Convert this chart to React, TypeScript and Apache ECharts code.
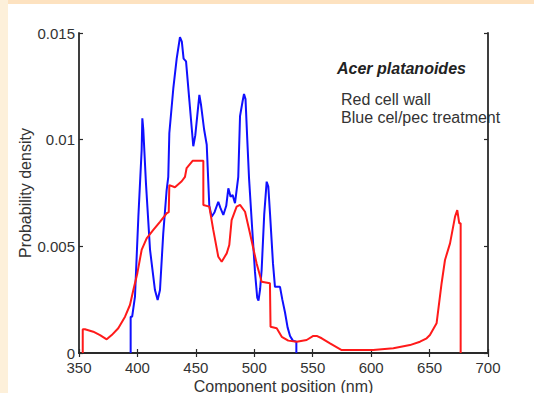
import React, { useEffect, useRef } from "react";
import * as echarts from "echarts";

// Red: cell wall
const redX = [353.2, 353.2, 355.1, 362.2, 368, 373.7, 378, 383.6, 389.4, 393.6, 396.5, 399.9, 403.6, 407.9, 413.6, 419.3, 425, 426.8, 427.3, 432.1, 437.9, 440.7, 442.1, 447.2, 456.4, 456.4, 461.5, 464.9, 469.2, 472.1, 476.4, 478.6, 480.6, 484.9, 487.8, 492.1, 496.3, 502, 506.3, 513.4, 513.9, 519.2, 523.5, 529.1, 536.3, 544.8, 550.5, 553.4, 557.7, 564.8, 574.8, 587.6, 601.8, 619, 633.2, 641.8, 647.5, 650.3, 656, 660.3, 663.2, 667.5, 671.8, 673.7, 675.4, 676.6, 676.6];
const redY = [0, 0.00111, 0.00111, 0.001, 0.00084, 0.00064, 0.00084, 0.00116, 0.0017, 0.00225, 0.00295, 0.00373, 0.00483, 0.00537, 0.00577, 0.00615, 0.00655, 0.0066, 0.00787, 0.00777, 0.00805, 0.00826, 0.00867, 0.00901, 0.00901, 0.00694, 0.00686, 0.00577, 0.00451, 0.00428, 0.00467, 0.00506, 0.00623, 0.00686, 0.00694, 0.00662, 0.00561, 0.0042, 0.00334, 0.00327, 0.00123, 0.00116, 0.00076, 0.00058, 0.00053, 0.00061, 0.0008, 0.0008, 0.00069, 0.00045, 0.00014, 0.00014, 0.00014, 0.00022, 0.00037, 0.00053, 0.00069, 0.00084, 0.00139, 0.00327, 0.00436, 0.00514, 0.00639, 0.0067, 0.00608, 0.00608, 0];

// Blue: cel/pec treatment
const blueX = [394.2, 394.2, 395.5, 397.9, 400.8, 403.6, 404.2, 405, 407.3, 410.8, 415, 417.3, 419.3, 422.1, 425, 426.4, 427.3, 430.7, 433.6, 436.4, 438, 439.5, 441.6, 444.5, 447.8, 449.5, 453, 454.5, 457, 459.3, 461.5, 463.5, 466, 469.2, 471, 473.5, 476, 477.8, 479.7, 481.5, 483.5, 486.3, 487.8, 490, 491.2, 492.5, 494, 495.5, 498, 500.6, 502.5, 503.6, 505, 506.3, 508.5, 510.6, 512, 513.5, 516, 517.7, 522, 524, 526.3, 528.5, 530.6, 533, 536, 536];
const blueY = [0, 0.0017, 0.0017, 0.00264, 0.00639, 0.0095, 0.011, 0.0105, 0.00795, 0.00483, 0.00295, 0.00248, 0.00295, 0.00561, 0.00764, 0.00826, 0.0103, 0.0124, 0.0138, 0.0148, 0.0146, 0.0138, 0.01367, 0.0118, 0.00969, 0.0102, 0.0121, 0.0116, 0.0105, 0.00976, 0.0069, 0.00639, 0.0066, 0.00709, 0.0068, 0.00647, 0.0069, 0.00772, 0.00733, 0.0074, 0.00702, 0.00826, 0.0111, 0.0118, 0.01214, 0.0119, 0.01, 0.0082, 0.006, 0.0038, 0.0026, 0.00245, 0.003, 0.0039, 0.0065, 0.00803, 0.0078, 0.0065, 0.0042, 0.0031, 0.0031, 0.0025, 0.0019, 0.0012, 0.0008, 0.00058, 0.00053, 0];

const xTicks = { min: 350, max: 700, interval: 50 };
const yTicks = { min: 0, max: 0.015, interval: 0.005 };

const speciesLabel = "Acer platanoides";
const legendLines = ["Red cell wall", "Blue cel/pec treatment"];

const FONT = "'Liberation Sans', Arial, Helvetica, sans-serif";
const TEXT = "#333";
const AXIS = "#2a2a2a";

export default function App() {
  const ref = useRef<HTMLDivElement>(null);
  useEffect(() => {
    if (!ref.current) return;
    const chart = echarts.init(ref.current, null, { renderer: "svg" });
    const axisLine = { show: true, lineStyle: { color: AXIS, width: 1.8 } };
    const axisTick = { show: true, inside: true, length: 4, lineStyle: { color: AXIS, width: 1.2 } };
    const yFmt = (v: number) => (v === 0 ? "0" : String(+v.toFixed(3)));
    chart.setOption({
      animation: false,
      backgroundColor: "#ffffff",
      grid: { left: 79, right: 46, top: 33, bottom: 40, containLabel: false, outerBoundsMode: "none" },
      xAxis: [
        {
          type: "value", ...xTicks, position: "bottom",
          axisLine, axisTick, splitLine: { show: false },
          axisLabel: { fontSize: 15, lineHeight: 12, color: TEXT, margin: 8, fontFamily: FONT },
          name: "Component position (nm)", nameLocation: "middle", nameGap: 25, nameMoveOverlap: false,
          nameTextStyle: { fontSize: 16, color: TEXT, fontFamily: FONT },
        },
        {
          type: "value", ...xTicks, position: "top",
          axisLine, axisTick, splitLine: { show: false }, axisLabel: { show: false },
        },
      ],
      yAxis: [
        {
          type: "value", ...yTicks, position: "left",
          axisLine, axisTick, splitLine: { show: false },
          axisLabel: { fontSize: 15, lineHeight: 12, color: TEXT, margin: 4, fontFamily: FONT, formatter: yFmt },
          name: "Probability density", nameLocation: "middle", nameGap: 46, nameMoveOverlap: false,
          nameTextStyle: { fontSize: 16, color: TEXT, fontFamily: FONT },
        },
        {
          type: "value", ...yTicks, position: "right",
          axisLine, axisTick, splitLine: { show: false }, axisLabel: { show: false },
        },
      ],
      series: [
        {
          type: "line", name: "Blue cel/pec treatment", xAxisIndex: 0, yAxisIndex: 0,
          data: blueX.map((x, i) => [x, blueY[i]]),
          showSymbol: false, lineStyle: { color: "#1010ff", width: 2 }, z: 2,
        },
        {
          type: "line", name: "Red cell wall", xAxisIndex: 0, yAxisIndex: 0,
          data: redX.map((x, i) => [x, redY[i]]),
          showSymbol: false, lineStyle: { color: "#ff1a1a", width: 2 }, z: 3,
        },
      ],
      graphic: [
        { type: "rect", z: -10, shape: { x: 0, y: 0, width: 534, height: 4 }, style: { fill: "#fde2c0" } },
        { type: "rect", z: -10, shape: { x: 0, y: 0, width: 8, height: 393 }, style: { fill: "#fdf0da" } },
        {
          type: "text", x: 337, y: 68,
          style: { text: speciesLabel, font: `italic bold 16px ${FONT}`, fill: "#222", verticalAlign: "middle" },
        },
        ...legendLines.map((t, i) => ({
          type: "text", x: 341, y: 99 + i * 18,
          style: { text: t, font: `16px ${FONT}`, fill: TEXT, verticalAlign: "middle" },
        })),
      ],
    });
    return () => chart.dispose();
  }, []);
  return <div ref={ref} style={{ position: "fixed", left: 0, top: 0, width: 534, height: 393 }} />;
}
